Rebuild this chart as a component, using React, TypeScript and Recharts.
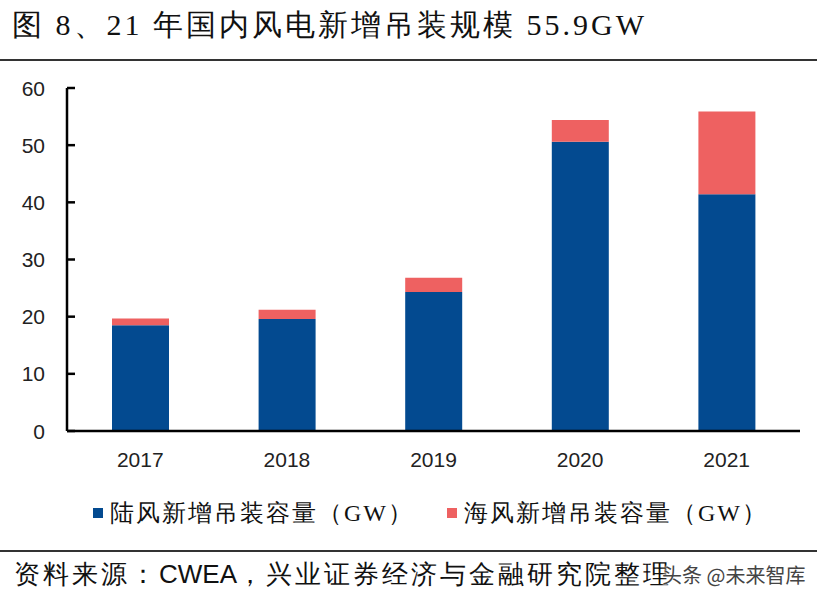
import React from 'react';
import { BarChart, Bar, XAxis, YAxis } from 'recharts';

const years = ['2017', '2018', '2019', '2020', '2021'];
const onshore = [18.5, 19.6, 24.3, 50.6, 41.4];
const offshore = [1.2, 1.6, 2.5, 3.8, 14.5];
const yTicks = [0, 10, 20, 30, 40, 50, 60];

const BLUE = '#034a90';
const RED = '#ee6161';

const data = years.map((year, i) => ({ year, onshore: onshore[i], offshore: offshore[i] }));

const tickStyle = { fontFamily: 'Liberation Sans, Arial, sans-serif', fontSize: 21, fill: '#222' };

// y tick: label plus a short inward tick mark on the axis
const YTick = (props: any) => {
  const { x, y, payload } = props;
  return (
    <g>
      <path d={`M${x + 22},${y}H${x + 30}`} stroke="#000" strokeWidth={2.5} />
      <text x={x} y={y} dy="0.36em" textAnchor="end" {...tickStyle}>
        {payload.value}
      </text>
    </g>
  );
};

const App = () => {
  return (
    <div style={{ position: 'absolute', left: 0, top: 0, width: 837, height: 597, background: '#fff', fontFamily: 'serif' }}>
      <div style={{ position: 'absolute', left: 12, top: 5, fontSize: 30, color: '#111', whiteSpace: 'nowrap', letterSpacing: 3 }}>
        图 8、21 年国内风电新增吊装规模 55.9GW
      </div>
      <div style={{ position: 'absolute', left: 0, top: 59, width: 817, height: 2, background: '#333' }} />

      <div style={{ position: 'absolute', left: 0, top: 0 }}>
        <BarChart width={837} height={597} data={data} margin={{ top: 88, right: 37, left: 0, bottom: 126 }} barSize={57}>
          <YAxis
            domain={[0, 60]}
            ticks={yTicks}
            interval={0}
            width={67}
            axisLine={{ stroke: '#000', strokeWidth: 2.5 }}
            tickLine={false}
            tickSize={0}
            tickMargin={22}
            tick={<YTick />}
          />
          <XAxis
            dataKey="year"
            height={40}
            axisLine={{ stroke: '#000', strokeWidth: 2.5 }}
            tickLine={false}
            tickSize={0}
            tickMargin={21}
            tick={tickStyle}
          />
          <Bar dataKey="onshore" stackId="a" fill={BLUE} isAnimationActive={false} />
          <Bar dataKey="offshore" stackId="a" fill={RED} isAnimationActive={false} />
        </BarChart>
      </div>

      <div style={{ position: 'absolute', left: 93, top: 497, fontSize: 24, color: '#111', whiteSpace: 'nowrap', display: 'flex', alignItems: 'center', letterSpacing: 2 }}>
        <span style={{ display: 'inline-block', width: 10, height: 10, background: BLUE, marginRight: 7 }} />
        <span>陆风新增吊装容量（GW）</span>
        <span style={{ display: 'inline-block', width: 10, height: 10, background: RED, marginLeft: 33, marginRight: 7 }} />
        <span>海风新增吊装容量（GW）</span>
      </div>

      <div style={{ position: 'absolute', left: 0, top: 550, width: 817, height: 2, background: '#333' }} />
      <div style={{ position: 'absolute', left: 14, top: 557, fontSize: 26, color: '#111', whiteSpace: 'nowrap', letterSpacing: 3 }}>
        资料来源：<span style={{ fontFamily: 'Liberation Sans, Arial, sans-serif', letterSpacing: 0 }}>CWEA</span>，兴业证券经济与金融研究院整理
      </div>
      <div style={{ position: 'absolute', left: 662, top: 560, fontSize: 20, color: '#444', whiteSpace: 'nowrap', fontFamily: 'Noto Sans CJK SC, sans-serif', textShadow: '0 0 2px #fff, 0 0 2px #fff, 0 0 3px #fff' }}>
        头条 @未来智库
      </div>
    </div>
  );
};

export default App;
